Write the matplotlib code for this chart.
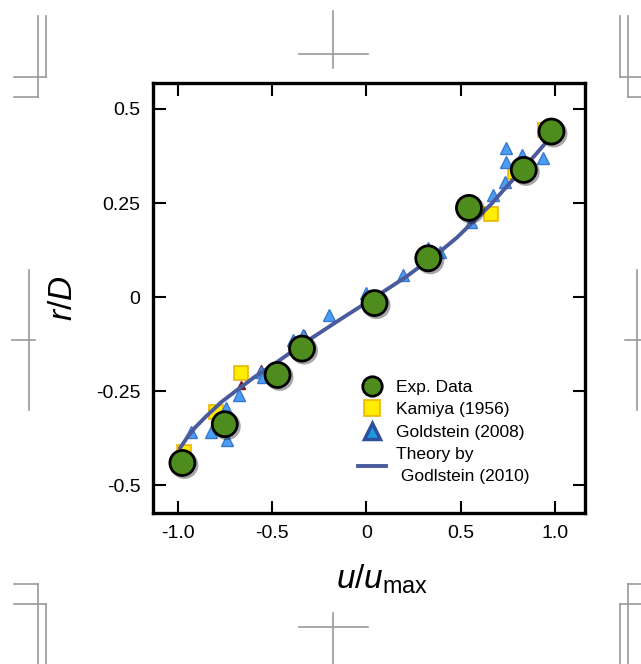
import matplotlib
matplotlib.use("Agg")
import matplotlib.pyplot as plt
import matplotlib.patheffects as pe
from matplotlib.lines import Line2D

plt.rcParams['font.family'] = ['Liberation Sans', 'DejaVu Sans']
plt.rcParams['mathtext.fontset'] = 'custom'
plt.rcParams['mathtext.rm'] = 'Liberation Sans'
plt.rcParams['mathtext.it'] = 'Liberation Sans:italic'

# experimental data (green circles)
exp_x = [-0.977, -0.752, -0.472, -0.342, 0.043, 0.328, 0.544, 0.835, 0.982]
exp_y = [-0.441, -0.338, -0.207, -0.137, -0.016, 0.103, 0.237, 0.338, 0.440]

# Kamiya (1956)
kam_x = [-0.968, -0.80, -0.667, 0.663, 0.787, 0.947]
kam_y = [-0.411, -0.305, -0.203, 0.220, 0.333, 0.444]

# Goldstein (2008)
gold_x = [-0.933, -0.826, -0.743, -0.738, -0.676, -0.56, -0.55, -0.392, -0.339,
          -0.197, 0.0, 0.193, 0.326, 0.388, 0.557, 0.672, 0.734, 0.743, 0.739,
          0.823, 0.938]
gold_y = [-0.358, -0.358, -0.296, -0.380, -0.261, -0.199, -0.212, -0.114, -0.101,
          -0.048, 0.010, 0.059, 0.130, 0.121, 0.200, 0.271, 0.307, 0.395, 0.360,
          0.378, 0.369]

# small red marks hidden behind other symbols
red_x = [-0.667, -0.56, -0.33]
red_y = [-0.235, -0.19, -0.098]

# theory by Goldstein (2010)
th_x = [-0.99, -0.95, -0.91, -0.853, -0.77, -0.676, -0.59, -0.498, -0.41, -0.321,
        -0.144, 0.034, 0.211, 0.388, 0.48, 0.566, 0.66, 0.743, 0.832, 0.90, 0.965]
th_y = [-0.402, -0.372, -0.347, -0.318, -0.279, -0.243, -0.211, -0.181, -0.150,
        -0.119, -0.061, -0.004, 0.054, 0.120, 0.158, 0.200, 0.246, 0.293, 0.342,
        0.380, 0.418]

xticks = [-1.0, -0.5, 0, 0.5, 1.0]
xtick_labels = ['-1.0', '-0.5', '0', '0.5', '1.0']
yticks = [-0.5, -0.25, 0, 0.25, 0.5]
ytick_labels = ['-0.5', '-0.25', '0', '0.25', '0.5']

W, H = 641, 664
fig = plt.figure(figsize=(W / 100, H / 100), dpi=100)
ax = fig.add_axes([153 / W, 1 - 513 / H, 432 / W, 430 / H])

ax.plot(red_x, red_y, '^', ms=6, color='#b01818', mec='#701010', zorder=2)
ax.plot(kam_x, kam_y, 's', ms=10, color='#ffee00', mec='#f0b400', mew=1.2, zorder=2)
ax.plot(gold_x, gold_y, '^', ms=8, color='#4a9ff5', mec='#3a78d0', mew=1, zorder=3)
ax.plot(th_x, th_y, '-', lw=2.8, color='#4a5b9c', zorder=4, solid_capstyle='round')
ax.plot(exp_x, exp_y, 'o', ms=18, color='#4f8c1e', mec='black', mew=2, zorder=5,
        path_effects=[pe.SimpleLineShadow(offset=(1.5, -1.5), alpha=0.35), pe.Normal()])

ax.set_xlim(-1.133, 1.16)
ax.set_ylim(-0.574, 0.569)
ax.set_xticks(xticks)
ax.set_xticklabels(xtick_labels)
ax.set_yticks(yticks)
ax.set_yticklabels(ytick_labels)
ax.tick_params(direction='in', length=9, width=1.5, top=True, right=True,
               labelsize=14, pad=9)
for s in ax.spines.values():
    s.set_linewidth(2.4)

ax.set_xlabel(r'$u/u_{\rm max}$', fontsize=24)
ax.xaxis.set_label_coords(0.53, -0.115)
ax.xaxis.label.set_va('top')
ax.set_ylabel(r'$r/D$', fontsize=24, labelpad=12)

handles = [
    Line2D([], [], marker='o', ls='', ms=14, color='#4f8c1e', mec='black', mew=2),
    Line2D([], [], marker='s', ls='', ms=11, color='#ffee00', mec='#f0b400', mew=1.2),
    Line2D([], [], marker='^', ls='', ms=12, color='#1a9be0', mec='#2f4f9c', mew=2.5),
    Line2D([], [], ls='-', lw=2.8, color='#4a5b9c'),
]
labels = ['Exp. Data', 'Kamiya (1956)', 'Goldstein (2008)', 'Theory by\n Godlstein (2010)']
leg = ax.legend(handles, labels, loc='upper left', bbox_to_anchor=(0.455, 0.33),
                frameon=False, fontsize=12.5, handlelength=1.6, handletextpad=0.6,
                labelspacing=0.42, borderpad=0)
for t in leg.get_texts():
    t.set_linespacing(1.6)

# crop marks around the figure
gray = '#9a9a9a'
marks = [
    ((38, 38), (16, 97)), ((46, 46), (16, 77)), ((14, 46), (77, 77)), ((14, 38), (97, 97)),
    ((333, 333), (11, 68)), ((299, 368), (54, 54)),
    ((620, 620), (16, 77)), ((628, 628), (16, 97)), ((620, 641), (77, 77)), ((628, 641), (97, 97)),
    ((14, 38), (584, 584)), ((38, 38), (584, 664)), ((14, 46), (604, 604)), ((46, 46), (604, 664)),
    ((299, 368), (627, 627)), ((333, 333), (613, 664)),
    ((628, 641), (584, 584)), ((628, 628), (584, 664)), ((620, 641), (604, 604)), ((620, 620), (604, 664)),
    ((29, 29), (270, 410)), ((12, 35), (340, 340)),
    ((637, 637), (270, 410)), ((625, 641), (340, 340)),
]
for xs, ys in marks:
    fig.add_artist(Line2D([x / W for x in xs], [1 - y / H for y in ys],
                          transform=fig.transFigure, color=gray, lw=1.2))

fig.savefig('out.png', dpi=100)
